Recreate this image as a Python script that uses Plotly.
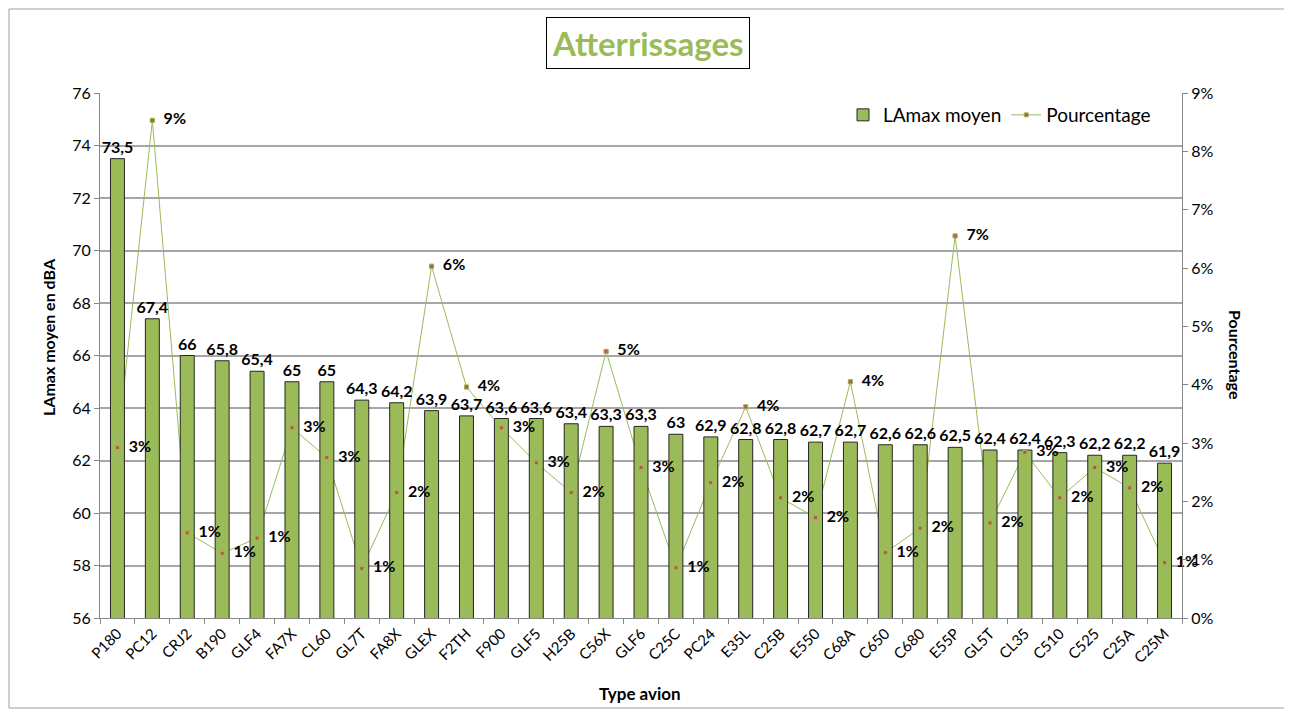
import plotly.graph_objects as go

categories = ["P180", "PC12", "CRJ2", "B190", "GLF4", "FA7X", "CL60", "GL7T", "FA8X", "GLEX",
              "F2TH", "F900", "GLF5", "H25B", "C56X", "GLF6", "C25C", "PC24", "E35L", "C25B",
              "E550", "C68A", "C650", "C680", "E55P", "GL5T", "CL35", "C510", "C525", "C25A", "C25M"]
lamax = [73.5, 67.4, 66, 65.8, 65.4, 65, 65, 64.3, 64.2, 63.9,
         63.7, 63.6, 63.6, 63.4, 63.3, 63.3, 63, 62.9, 62.8, 62.8,
         62.7, 62.7, 62.6, 62.6, 62.5, 62.4, 62.4, 62.3, 62.2, 62.2, 61.9]
pourcentage = [0.0292, 0.0853, 0.0146, 0.0111, 0.0137, 0.0326, 0.0275, 0.0085, 0.0215, 0.0603,
               0.0396, 0.0326, 0.0266, 0.0215, 0.0457, 0.0258, 0.0086, 0.0232, 0.0362, 0.0206,
               0.0172, 0.0405, 0.0112, 0.0154, 0.0655, 0.0163, 0.0284, 0.0206, 0.0258, 0.0223, 0.0095]

FONT = "Lato"
GREEN = "#9BBB59"
bar_text = [("%g" % v).replace(".", ",") for v in lamax]

# page body has an 8px margin: plot area in page px is x 100..1182, y 93..618
OFF = 8
PL, PR, PT, PB = 100, 1182, 93, 618
PW, PH = PR - PL, PB - PT


def px(x):
    return (x - PL) / PW


def py(y):
    return (PB - y) / PH


fig = go.Figure()

# line (drawn under the bars)
fig.add_trace(go.Scatter(
    x=categories, y=pourcentage, yaxis="y", name="Pourcentage",
    mode="lines+markers",
    line=dict(color=GREEN, width=1),
    marker=dict(symbol="square", size=4, color="#C0504D", line=dict(color=GREEN, width=1)),
    legendrank=2, hoverinfo="skip",
))

fig.add_trace(go.Bar(
    x=categories, y=lamax, yaxis="y2", name="LAmax moyen",
    marker=dict(color=GREEN, line=dict(color="#262626", width=1)),
    width=0.4,
    text=bar_text, textposition="outside", constraintext="none", cliponaxis=False,
    textfont=dict(family=FONT, size=16, color="#000000", weight="bold"),
    legendrank=1,
))

# markers + labels on top
fig.add_trace(go.Scatter(
    x=categories, y=pourcentage, yaxis="y3", showlegend=False,
    mode="markers+text",
    marker=dict(symbol="square", size=4, color="#C0504D", line=dict(color=GREEN, width=1)),
    texttemplate="  %{y:.0%}", textposition="middle right",
    textfont=dict(family=FONT, size=16, color="#000000", weight="bold"),
    cliponaxis=False,
))

axis_line = "#868686"

fig.update_layout(
    width=1292 - OFF, height=711 - OFF,
    margin=dict(l=PL - OFF, r=1292 - PR, t=PT - OFF, b=711 - PB),
    paper_bgcolor="white", plot_bgcolor="white",
    font=dict(family=FONT, size=16, color="#000000"),
    showlegend=True,
    barmode="overlay",
    legend=dict(orientation="h", x=px(1156), xanchor="right", y=py(96), yanchor="top",
                font=dict(family=FONT, size=19), bgcolor="rgba(0,0,0,0)",
                traceorder="normal", itemwidth=30),
    xaxis=dict(type="category", range=[-0.5, 30.5], tickangle=-45, showgrid=False,
               showline=True, linecolor=axis_line, linewidth=1,
               ticks="outside", tickson="boundaries", ticklen=5, tickcolor=axis_line,
               tickfont=dict(family=FONT, size=15)),
    yaxis=dict(side="right", range=[0, 0.09], dtick=0.01, tickformat=".0%",
               showgrid=False, zeroline=False, showline=True, linecolor=axis_line,
               ticks="outside", ticklen=5, tickcolor=axis_line,
               tickfont=dict(family=FONT, size=16)),
    yaxis2=dict(side="left", overlaying="y", range=[56, 76], dtick=2,
                showgrid=True, gridcolor="#A6A6A6", gridwidth=1.5, zeroline=False,
                showline=True, linecolor=axis_line, ticks="outside", ticklen=5,
                tickcolor=axis_line, tickfont=dict(family=FONT, size=16)),
    yaxis3=dict(overlaying="y", range=[0, 0.09], visible=False),
    annotations=[
        dict(text="<b>Atterrissages</b>", xref="paper", yref="paper",
             x=px(647.5), y=py(43), xanchor="center", yanchor="middle", showarrow=False,
             font=dict(family=FONT, size=33, color=GREEN),
             bordercolor="#000000", borderwidth=1, borderpad=5, bgcolor="white"),
        dict(text="<b>LAmax moyen en dBA</b>", xref="paper", yref="paper",
             x=px(48), y=py(337), xanchor="center", yanchor="middle", textangle=-90,
             showarrow=False, font=dict(family=FONT, size=16)),
        dict(text="<b>Pourcentage</b>", xref="paper", yref="paper",
             x=px(1236), y=py(355), xanchor="center", yanchor="middle", textangle=90,
             showarrow=False, font=dict(family=FONT, size=16)),
        dict(text="<b>Type avion</b>", xref="paper", yref="paper",
             x=px(640), y=py(693), xanchor="center", yanchor="middle",
             showarrow=False, font=dict(family=FONT, size=17)),
    ],
    shapes=[
        dict(type="rect", xref="paper", yref="paper",
             x0=px(9), x1=px(1289), y0=py(708), y1=py(9),
             line=dict(color="#A0A0A0", width=1), fillcolor="rgba(0,0,0,0)", layer="below"),
    ],
)

fig.write_html("out.html")
